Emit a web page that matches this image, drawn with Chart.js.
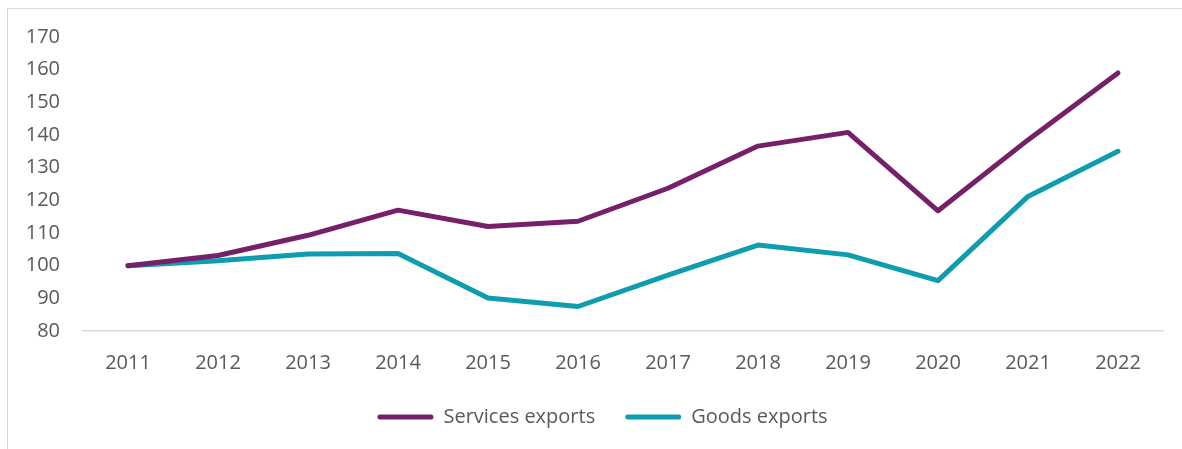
<!DOCTYPE html>
<html>
<head>
<meta charset="utf-8">
<script src="https://cdn.jsdelivr.net/npm/chart.js"></script>
<style>
  html, body { margin: 0; padding: 0; background: #fff; overflow: hidden; }
  #wrap { position: relative; width: 1182px; height: 449px; overflow: hidden; }
  #frame { position: absolute; left: 7px; top: 8px; width: 1300px; height: 600px; border: 1px solid #d9d9d9; box-sizing: border-box; }
  #exportsChart { position: absolute; left: 0; top: 0; }
</style>
</head>
<body>
<div id="wrap">
  <div id="frame"></div>
  <canvas id="exportsChart" width="1182" height="449"></canvas>
</div>
<script>
let years = ["2011", "2012", "2013", "2014", "2015", "2016", "2017", "2018", "2019", "2020", "2021", "2022"];
let servicesExports = [100, 103.1, 109.3, 117.0, 112.0, 113.6, 123.7, 136.6, 140.8, 116.8, 138.5, 159.0];
let goodsExports = [100, 101.5, 103.6, 103.7, 90.1, 87.5, 97.1, 106.3, 103.3, 95.4, 121.2, 135.0];
let yTicks = [80, 90, 100, 110, 120, 130, 140, 150, 160, 170];

const textColor = "#595959";
const fontFamily = "'Open Sans', sans-serif";

// nudge the centred legend to the right
const legendShift = {
    id: "legendShift",
    afterLayout: (chart) => {
        if (chart.legend) {
            chart.legend.left += 21;
            chart.legend.right += 21;
        }
    }
};

new Chart("exportsChart", {
    type: "line",
    data: {
        labels: years,
        datasets: [{
            label: "Services exports",
            data: servicesExports,
            borderColor: "#76206a",
            backgroundColor: "#76206a",
            borderWidth: 5,
            borderCapStyle: "round",
            borderJoinStyle: "round",
            pointRadius: 0,
            tension: 0
        }, {
            label: "Goods exports",
            data: goodsExports,
            borderColor: "#0e9dae",
            backgroundColor: "#0e9dae",
            borderWidth: 5,
            borderCapStyle: "round",
            borderJoinStyle: "round",
            pointRadius: 0,
            tension: 0
        }]
    },
    options: {
        responsive: false,
        animation: false,
        layout: { padding: { left: 0, right: 19, top: 37, bottom: 12 } },
        plugins: {
            tooltip: { enabled: false },
            legend: {
                position: "bottom",
                labels: {
                    color: textColor,
                    font: { family: fontFamily, size: 20 },
                    boxWidth: 56,
                    boxHeight: 5,
                    useBorderRadius: true,
                    borderRadius: 2.5,
                    padding: 30,
                    // flat legend swatches, no outline stroke
                    generateLabels: (chart) => {
                        const items = Chart.defaults.plugins.legend.labels.generateLabels(chart);
                        items.forEach(item => { item.lineWidth = 0; item.strokeStyle = "rgba(0,0,0,0)"; });
                        return items;
                    }
                }
            }
        },
        scales: {
            x: {
                offset: true,
                grid: { display: false, drawTicks: false },
                border: { display: true, color: "#d9d9d9", width: 1.5 },
                ticks: {
                    color: textColor,
                    font: { family: fontFamily, size: 20 },
                    padding: 20,
                    maxRotation: 0
                },
                afterFit: (scale) => { scale.height = 46; }
            },
            y: {
                min: 80,
                max: 170,
                grid: { display: false, drawTicks: false },
                border: { display: false },
                afterBuildTicks: (scale) => {
                    scale.ticks = yTicks.map(v => ({ value: v }));
                },
                ticks: {
                    color: textColor,
                    font: { family: fontFamily, size: 20 },
                    padding: 23
                },
                afterFit: (scale) => { scale.width = 83; }
            }
        }
    },
    plugins: [legendShift]
});
</script>
</body>
</html>
